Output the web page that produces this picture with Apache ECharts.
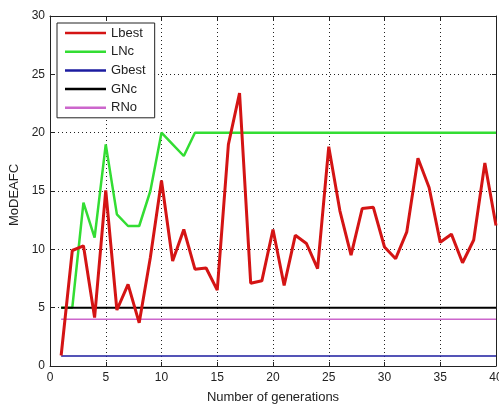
<!DOCTYPE html>
<html><head><meta charset="utf-8">
<script src="https://cdn.jsdelivr.net/npm/echarts@6/dist/echarts.min.js"></script>
<style>html,body{margin:0;padding:0;background:#fff}#c{width:499px;height:406px}</style>
</head><body><div id="c"></div>
<script>
var generations = [1,2,3,4,5,6,7,8,9,10,11,12,13,14,15,16,17,18,19,20,21,22,23,24,25,26,27,28,29,30,31,32,33,34,35,36,37,38,39,40];
var lbest = [0.9,9.9,10.3,4.15,15.05,4.8,7.0,3.7,9.3,15.9,9.0,11.7,8.3,8.4,6.5,19.0,23.4,7.1,7.3,11.7,6.9,11.2,10.5,8.35,18.8,13.3,9.5,13.5,13.6,10.2,9.2,11.5,17.8,15.3,10.6,11.3,8.85,10.8,17.4,12.05];
var lnc = [5,5,14,11,19,13,12,12,15,20,19,18,20,20,20,20,20,20,20,20,20,20,20,20,20,20,20,20,20,20,20,20,20,20,20,20,20,20,20,20];
var gbestLevel = 0.85;
var gncLevel = 5;
var rnoLevel = 4;
var xTicks = [0,5,10,15,20,25,30,35,40];
var yTicks = [0,5,10,15,20,25,30];

function pairs(vals){ return generations.map(function(g,i){ return [g, vals[i]]; }); }
function flat(v){ return generations.map(function(g){ return [g, v]; }); }

var chart = echarts.init(document.getElementById('c'));
var font = 'Liberation Sans, Arial, sans-serif';
var axisLine = {show:true, onZero:false, lineStyle:{color:'#222', width:1}};
var axisTick = {show:true, inside:true, length:4, lineStyle:{color:'#222'}};
var gridLine = {show:true, lineStyle:{color:'#222', type:[1,3], width:1}};
chart.setOption({
  animation:false,
  backgroundColor:'#fff',
  grid:{left:50, right:3, top:16, bottom:40, containLabel:false, outerBoundsMode:'none'},
  legend:{
    orient:'vertical', left:57, top:23,
    padding:[3,9,3,8],
    icon:'rect', itemWidth:41, itemHeight:2.5, itemGap:4.7,
    backgroundColor:'#fff', borderColor:'#222', borderWidth:1,
    textStyle:{fontFamily:font, fontSize:13, color:'#222', lineHeight:14},
    data:['Lbest','LNc','Gbest','GNc','RNo']
  },
  xAxis:[
    {type:'value', min:xTicks[0], max:xTicks[xTicks.length-1], interval:5, position:'bottom',
      name:'Number of generations', nameLocation:'middle', nameGap:25,
      nameTextStyle:{fontFamily:font, fontSize:13, color:'#222'},
      axisLabel:{fontFamily:font, fontSize:12, color:'#222', margin:6},
      axisLine:axisLine, axisTick:axisTick, splitLine:gridLine},
    {type:'value', min:0, max:40, interval:5, position:'top', axisLabel:{show:false},
      axisLine:axisLine, axisTick:axisTick, splitLine:{show:false}}
  ],
  yAxis:[
    {type:'value', min:yTicks[0], max:yTicks[yTicks.length-1], interval:5, position:'left',
      name:'MoDEAFC', nameLocation:'middle', nameGap:22,
      nameTextStyle:{fontFamily:font, fontSize:13, color:'#222', padding:[0,8,0,0]},
      axisLabel:{fontFamily:font, fontSize:12, color:'#222', margin:5},
      axisLine:axisLine, axisTick:axisTick, splitLine:gridLine},
    {type:'value', min:0, max:30, interval:5, position:'right', axisLabel:{show:false},
      axisLine:axisLine, axisTick:axisTick, splitLine:{show:false}}
  ],
  series:[
    {name:'Lbest', type:'line', data:pairs(lbest), symbol:'none', z:5, lineStyle:{color:'#d41414', width:3}, itemStyle:{color:'#d41414'}},
    {name:'LNc', type:'line', data:pairs(lnc), symbol:'none', z:4, lineStyle:{color:'#33dd33', width:2.5}, itemStyle:{color:'#33dd33'}},
    {name:'Gbest', type:'line', data:flat(gbestLevel), symbol:'none', z:4, lineStyle:{color:'#1c1ca0', width:1.5}, itemStyle:{color:'#1c1ca0'}},
    {name:'GNc', type:'line', data:flat(gncLevel), symbol:'none', z:4, lineStyle:{color:'#000', width:2}, itemStyle:{color:'#000'}},
    {name:'RNo', type:'line', data:flat(rnoLevel), symbol:'none', z:4, lineStyle:{color:'#cc66cc', width:1.5}, itemStyle:{color:'#cc66cc'}}
  ]
});
</script></body></html>
